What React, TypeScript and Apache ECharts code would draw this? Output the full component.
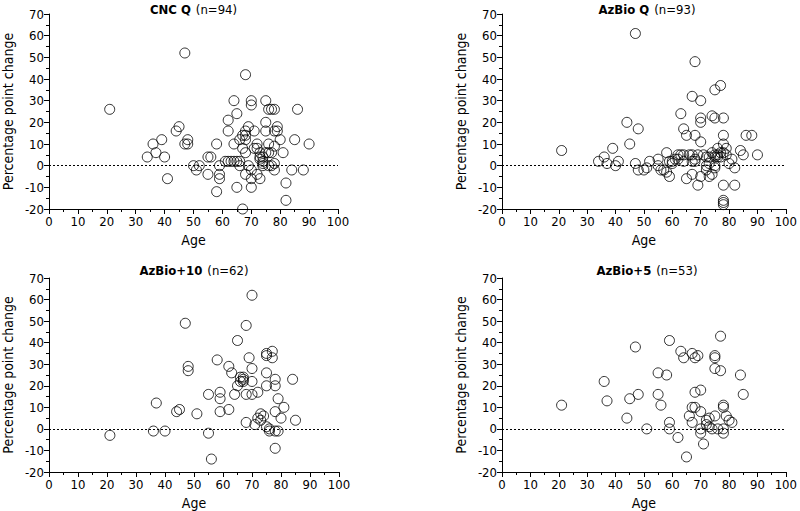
import React, { useEffect, useRef } from "react";
import * as echarts from "echarts";

const panelTitles = ["CNC Q", "AzBio Q", "AzBio+10", "AzBio+5"];
const panelCounts = ["(n=94)", "(n=93)", "(n=62)", "(n=53)"];

const cncQ: [number, number][] = [
  [21, 26], [47, 52], [68, 42], [64, 30], [70, 30], [75, 30], [70, 28], [76, 26], [77, 26], [78, 26],
  [86, 26], [65, 24], [75, 20], [62, 21], [69, 18], [79, 18], [45, 18], [44, 16], [62, 16], [68, 16],
  [71, 16], [75, 16], [78, 16], [79, 16], [67, 14], [68, 14], [39, 12], [48, 12], [66, 12], [68, 12],
  [80, 12], [85, 12], [36, 10], [47, 10], [48, 10], [58, 10], [64, 10], [72, 10], [76, 10], [78, 9],
  [90, 10], [67, 8], [72, 8], [73, 6], [37, 6], [68, 6], [75, 6], [77, 6], [81, 6], [34, 4],
  [40, 4], [55, 4], [56, 4], [74, 4], [73, 3], [74, 2], [62, 2], [63, 2], [64, 2], [65, 2],
  [66, 2], [74, 1], [78, 1], [50, 0], [52, 0], [59, 0], [66, 0], [69, 0], [76, 0], [77, 0],
  [51, -2], [70, -2], [78, -2], [84, -2], [88, -2], [55, -4], [59, -4], [68, -4], [72, -4], [41, -6],
  [59, -6], [70, -6], [73, -6], [82, -8], [65, -10], [70, -10], [58, -12], [82, -16], [67, -20], [74, 0],
  [73, 4], [61, 2], [71, 8], [76, 6],
];

const azbioQ: [number, number][] = [
  [21, 7], [47, 61], [68, 48], [77, 37], [75, 35], [67, 32], [70, 30], [63, 24], [74, 23], [75, 22],
  [78, 22], [70, 22], [70, 20], [44, 20], [48, 17], [64, 17], [65, 14], [68, 14], [78, 14], [86, 14],
  [88, 14], [70, 11], [45, 10], [78, 10], [79, 8], [39, 8], [76, 8], [84, 7], [85, 5], [90, 5],
  [58, 6], [62, 5], [64, 5], [66, 5], [67, 5], [69, 5], [72, 4], [73, 4], [74, 6], [75, 5],
  [76, 5], [77, 6], [75, 4], [76, 4], [77, 4], [78, 6], [36, 4], [55, 3], [62, 3], [81, 3],
  [68, 3], [67, 2], [34, 2], [41, 2], [52, 2], [59, 2], [60, 2], [64, 2], [68, 2], [80, 1],
  [73, 1], [37, 1], [47, 1], [40, 0], [55, 0], [72, 0], [75, 0], [51, -1], [48, -2], [50, -2],
  [56, -2], [72, -2], [75, -1], [82, -1], [58, -3], [67, -4], [74, -4], [65, -6], [59, -5], [70, -5],
  [73, -5], [69, -9], [78, -9], [82, -9], [78, -16], [78, -17], [78, -18], [57, -2], [61, 3], [79, 5],
  [71, 5], [63, 5], [60, 1],
];

const azbio10: [number, number][] = [
  [21, -3], [36, -1], [37, 12], [40, -1], [44, 8], [45, 9], [47, 49], [48, 29], [48, 27], [51, 7],
  [55, 16], [55, -2], [56, -14], [58, 32], [59, 17], [59, 14], [59, 8], [62, 29], [62, 9], [63, 26],
  [64, 16], [65, 41], [65, 20], [66, 24], [67, 23], [67, 22], [67, 24], [68, 48], [68, 16], [68, 3],
  [69, 33], [70, 62], [70, 28], [70, 22], [70, 16], [71, 2], [72, 17], [73, 7], [73, 4], [74, 6],
  [75, 35], [75, 34], [75, 26], [75, 20], [75, 1], [76, -1], [77, 36], [77, 33], [78, 23], [78, 20],
  [78, 8], [78, -1], [78, -9], [79, 14], [79, -1], [80, 5], [81, 10], [84, 23], [85, 4], [66, 22],
  [72, 5], [76, 0],
];

const azbio5: [number, number][] = [
  [21, 11], [36, 22], [37, 13], [44, 5], [45, 14], [47, 38], [48, 16], [51, 0], [55, 26], [55, 16],
  [56, 11], [58, 25], [59, 41], [59, 3], [59, 0], [62, -4], [63, 36], [64, 33], [65, -13], [66, 6],
  [67, 35], [67, 10], [67, 3], [68, 33], [68, 17], [68, 10], [69, 34], [70, 18], [70, 8], [70, 0],
  [70, -2], [71, -7], [72, 4], [73, 5], [73, 1], [74, 0], [75, 34], [75, 33], [75, 28], [75, 6],
  [76, 0], [77, 43], [77, 27], [78, 11], [78, 10], [78, 0], [78, -2], [79, 6], [80, 4], [81, 3],
  [84, 25], [85, 16], [72, 2],
];

const panelData = [cncQ, azbioQ, azbio10, azbio5];

const FONT = "'DejaVu Sans Condensed', 'Liberation Sans Narrow', 'Roboto', sans-serif";

const grids = [
  { left: 49, top: 14, width: 289, height: 195 },
  { left: 502, top: 14, width: 290, height: 195 },
  { left: 49, top: 278, width: 290, height: 195 },
  { left: 502, top: 278, width: 290, height: 195 },
];

export default function App() {
  const ref = useRef<HTMLDivElement>(null);
  useEffect(() => {
    document.body.style.margin = "0";
    const chart = echarts.init(ref.current!, undefined, { renderer: "svg" });
    const axisCommon = {
      axisLine: { show: true, onZero: false, lineStyle: { color: "#000", width: 1 } },
      axisTick: { show: true, length: 5, lineStyle: { color: "#000" } },
      minorTick: { show: true, splitNumber: 2, length: 3, lineStyle: { color: "#000" } },
      splitLine: { show: false },
      axisLabel: { color: "#000", fontFamily: FONT, fontSize: 13 },
      nameTextStyle: { color: "#000", fontFamily: FONT, fontSize: 14 },
    };
    chart.setOption({
      animation: false,
      backgroundColor: "#fff",
      title: grids.map((g, i) => ({
        text: `{b|${panelTitles[i]}} {n|${panelCounts[i]}}`,
        left: g.left + g.width / 2,
        top: i < 2 ? 0 : 261,
        padding: 0,
        textAlign: "center",
        textStyle: {
          fontWeight: "normal",
          rich: {
            b: { fontFamily: FONT, fontSize: 13, fontWeight: "bold", color: "#000" },
            n: { fontFamily: FONT, fontSize: 13, fontWeight: "normal", color: "#000" },
          },
        },
      })),
      grid: grids,
      xAxis: grids.map((_, i) => ({
        ...axisCommon,
        type: "value",
        gridIndex: i,
        min: 0,
        max: 100,
        interval: 10,
        name: "Age",
        nameLocation: "middle",
        nameGap: 24,
        axisLabel: { ...axisCommon.axisLabel, margin: 6 },
      })),
      yAxis: grids.map((_, i) => ({
        ...axisCommon,
        type: "value",
        gridIndex: i,
        min: -20,
        max: 70,
        interval: 10,
        name: "Percentage point change",
        nameLocation: "middle",
        nameGap: 34,
        axisLabel: { ...axisCommon.axisLabel, margin: 5 },
      })),
      series: panelData.map((d, i) => ({
        type: "scatter",
        xAxisIndex: i,
        yAxisIndex: i,
        data: d,
        symbol: "circle",
        symbolSize: 10,
        itemStyle: { color: "transparent", borderColor: "#000", borderWidth: 1 },
        markLine: {
          silent: true,
          symbol: "none",
          label: { show: false },
          lineStyle: { color: "#000", type: [2, 2], width: 1 },
          data: [[{ coord: [0, 0] }, { coord: [100, 0] }]],
        },
      })),
    });
    return () => chart.dispose();
  }, []);
  return (
    <div
      ref={ref}
      style={{ position: "fixed", left: 0, top: 0, width: 800, height: 511 }}
    />
  );
}
